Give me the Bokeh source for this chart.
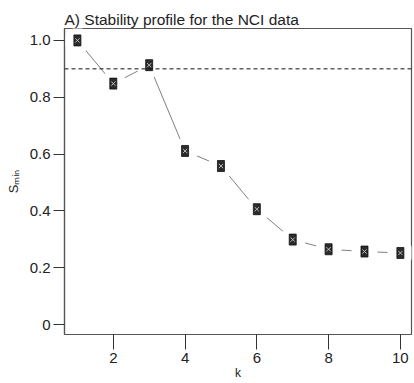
from bokeh.plotting import figure
from bokeh.models import ColumnDataSource, Span, Range1d, FixedTicker, CustomJSTickFormatter
from bokeh.embed import file_html
from bokeh.resources import INLINE

k_values = [1, 2, 3, 4, 5, 6, 7, 8, 9, 10]
s_min = [1.0, 0.848, 0.913, 0.611, 0.558, 0.406, 0.299, 0.265, 0.257, 0.252]
threshold = 0.9
x_ticks = [2, 4, 6, 8, 10]
y_ticks = [0, 0.2, 0.4, 0.6, 0.8, 1.0]
title_text = "A) Stability profile for the NCI data"

src = ColumnDataSource(dict(k=k_values, s=s_min))

FONT = "Liberation Sans"
p = figure(width=414, height=383, output_backend="svg", toolbar_location=None,
           x_range=Range1d(0.64, 10.31), y_range=Range1d(-0.035, 1.042),
           min_border_left=64, min_border_right=3, min_border_top=28, min_border_bottom=49,
           title=title_text)
p.title.text_font = FONT
p.title.text_font_size = "15.5px"
p.title.text_font_style = "normal"
p.title.text_color = "#222222"
p.title.align = "left"
p.title.offset = 0
p.title.standoff = 2

p.xgrid.visible = False
p.ygrid.visible = False
p.outline_line_color = "#555555"
p.outline_line_width = 1.2
p.background_fill_color = "white"
p.border_fill_color = "white"

for ax in (p.xaxis[0], p.yaxis[0]):
    ax.axis_line_color = "#555555"
    ax.axis_line_width = 1.2
    ax.major_tick_line_color = "#333333"
    ax.major_tick_in = 0
    ax.minor_tick_line_color = None
    ax.major_label_text_font = FONT
    ax.major_label_text_font_size = "15px"
    ax.major_label_text_color = "#222222"
    ax.major_label_standoff = 3
    ax.axis_label_text_font = FONT
    ax.axis_label_text_font_style = "normal"
    ax.axis_label_text_color = "#222222"

p.xaxis.ticker = FixedTicker(ticks=x_ticks)
p.xaxis.major_tick_out = 15
p.xaxis.axis_label = "k"
p.xaxis.axis_label_text_font_size = "12px"
p.xaxis.axis_label_standoff = 0

p.yaxis.ticker = FixedTicker(ticks=y_ticks)
p.yaxis.major_tick_out = 11
p.yaxis.major_label_orientation = "horizontal"
p.yaxis.formatter = CustomJSTickFormatter(code="return tick == 0 ? '0' : tick.toFixed(1);")
p.yaxis.axis_label = "Sₘᵢₙ"
p.yaxis.axis_label_text_font_size = "13px"
p.yaxis.axis_label_standoff = 6

# connecting line with gaps around points (R type="b")
p.line("k", "s", source=src, line_color="#808080", line_width=1)
p.scatter("k", "s", source=src, marker="circle", size=26, fill_color="white", line_color=None)

p.add_layout(Span(location=threshold, dimension="width", line_color="#111111",
                  line_dash="4 3", line_width=1))

p.rect("k", "s", source=src, width=7, height=11, width_units="screen", height_units="screen",
       fill_color="#2b2b2b", line_color="#111111", line_width=0.8)
p.scatter("k", "s", source=src, marker="x", size=6, line_color="#c8c8c8", line_width=0.9)

open("out.html", "w").write(file_html(p, INLINE))
